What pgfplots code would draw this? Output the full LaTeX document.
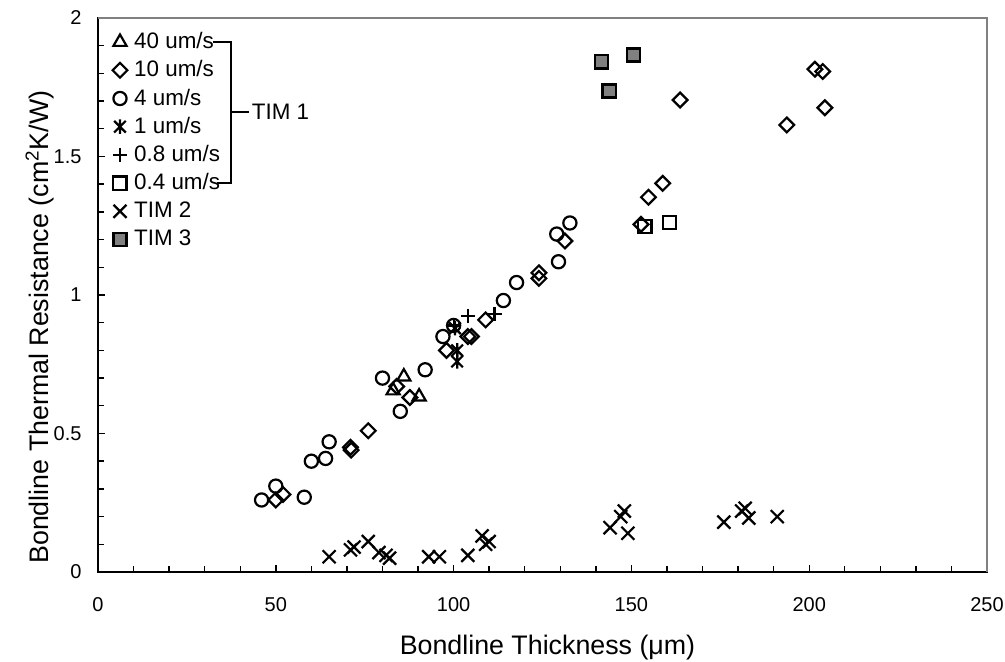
\documentclass[border=0pt]{standalone}
\usepackage{fontspec}
\setmainfont{Liberation Sans}
\usepackage{pgfplots}
\pgfplotsset{compat=1.18}
\pgfdeclareplotmark{xstar}{%
  \pgfpathmoveto{\pgfqpoint{-\pgfplotmarksize}{-\pgfplotmarksize}}%
  \pgfpathlineto{\pgfqpoint{\pgfplotmarksize}{\pgfplotmarksize}}%
  \pgfpathmoveto{\pgfqpoint{-\pgfplotmarksize}{\pgfplotmarksize}}%
  \pgfpathlineto{\pgfqpoint{\pgfplotmarksize}{-\pgfplotmarksize}}%
  \pgfpathmoveto{\pgfqpoint{0pt}{-1.25\pgfplotmarksize}}%
  \pgfpathlineto{\pgfqpoint{0pt}{1.25\pgfplotmarksize}}%
  \pgfusepathqstroke
}
\begin{document}
\begin{tikzpicture}
\begin{axis}[
  name=ax,
  width=444.5pt, height=277pt, scale only axis,
  xmin=0, xmax=250, ymin=0, ymax=2,
  xtick={0,50,...,250}, ytick={0,0.5,1,1.5,2},
  minor x tick num=4, minor y tick num=4,
  tick pos=left,
  axis line style={black, line width=0.9pt},
  tick align=inside,
  tick style={black, line width=0.7pt},
  major tick length=3.5pt, minor tick length=3pt,
  clip=false,
  /pgf/number format/assume math mode=true,
  ticklabel style={font=\fontsize{10}{12}\selectfont},
  xticklabel style={yshift=-9.2pt},
  yticklabel style={xshift=-4.7pt},
  xlabel={Bondline Thickness (μm)},
  ylabel={Bondline Thermal Resistance (cm\textsuperscript{2}K/W)},
  label style={font=\fontsize{13.4}{16}\selectfont},
  xlabel style={at={(axis description cs:0.5,0)}, anchor=center, yshift=-38pt, xshift=2.5pt},
  ylabel style={at={(axis description cs:0,0.442)}, anchor=center, yshift=29pt},
  legend cell align=left,
  legend image code/.code={%
    \path[draw=none, fill=none] (-4pt,-7.05pt) rectangle (5.1pt,7.05pt);
    \draw[mark repeat=2,mark phase=2] plot coordinates {(-4pt,0pt)(0pt,0pt)(4pt,0pt)};},
  legend style={at={(0.01575,0.98195)}, anchor=north west, draw=none, fill=none,
    inner sep=0pt, outer sep=0pt, row sep=0pt, nodes={inner ysep=0pt},
    font=\fontsize{11.2}{13}\selectfont},
]
\addplot[only marks, mark=triangle, mark size=3.8pt, line width=1.1pt, black]
coordinates {(83,0.655) (86,0.705) (90.3,0.633)};
\addlegendentry{40 um/s}
\addplot[only marks, mark=square, mark size=2.6pt, mark options={rotate=45}, line width=1.1pt, black]
coordinates {(50,0.26) (52,0.28) (71,0.45) (71.2,0.44) (76,0.51) (84,0.67) (87.7,0.63) (98,0.80) (104,0.85) (105,0.85) (109,0.91) (124,1.06) (124,1.08) (131.3,1.195) (152.7,1.255) (154.8,1.353) (158.8,1.403) (163.7,1.704) (193.7,1.614) (201.6,1.815) (203.8,1.807) (204.4,1.676)};
\addlegendentry{10 um/s}
\addplot[only marks, mark=o, mark size=3.3pt, line width=1.1pt, black]
coordinates {(46,0.26) (50,0.31) (58,0.27) (60,0.40) (64,0.41) (65,0.47) (80,0.70) (85,0.58) (92,0.73) (97,0.85) (100,0.89) (114,0.98) (117.7,1.045) (129.5,1.12) (129,1.22) (132.7,1.26)};
\addlegendentry{4 um/s}
\addplot[only marks, mark=xstar, mark size=2.9pt, line width=1.1pt, black]
coordinates {(100.4,0.88) (101,0.80) (101,0.76)};
\addlegendentry{1 um/s}
\addplot[only marks, mark=+, mark size=3.5pt, line width=1.1pt, black]
coordinates {(100,0.89) (104,0.925) (111.5,0.93)};
\addlegendentry{0.8 um/s}
\addplot[only marks, mark=square, mark size=3.3pt, line width=1.1pt, black]
coordinates {(153.8,1.247) (160.7,1.262)};
\addlegendentry{0.4 um/s}
\addplot[only marks, mark=x, mark size=4.6pt, line width=1.1pt, black]
coordinates {(65,0.055) (71,0.08) (72,0.09) (76,0.11) (79,0.07) (81,0.06) (82,0.05) (93,0.055) (96,0.055) (104,0.06) (108,0.13) (109,0.10) (110,0.11) (144,0.16) (147,0.20) (148,0.22) (149,0.14) (176,0.18) (181,0.22) (182,0.23) (183,0.195) (191,0.20)};
\addlegendentry{TIM 2}
\addplot[only marks, mark=square*, mark size=3.3pt, line width=1.3pt, black, mark options={fill=gray}]
coordinates {(141.6,1.842) (150.6,1.866) (143.8,1.737)};
\addlegendentry{TIM 3}
\draw[gray, line width=0.95pt] (rel axis cs:0,1) -- (rel axis cs:1,1) -- (rel axis cs:1,0);
\draw[line width=0.8pt] (rel axis cs:0.1294,0.9567) -- (rel axis cs:0.1496,0.9567) -- (rel axis cs:0.1496,0.7022) -- (rel axis cs:0.1339,0.7022);
\draw[line width=0.8pt] (rel axis cs:0.1496,0.8303) -- (rel axis cs:0.1699,0.8303) node[anchor=west, inner sep=1pt, font=\fontsize{11.2}{13}\selectfont] {TIM 1};
\end{axis}
\pgfresetboundingbox
\path[use as bounding box] ([xshift=-49pt,yshift=-45pt]ax.south west) rectangle ([xshift=9pt,yshift=9pt]ax.north east);
\end{tikzpicture}
\end{document}
